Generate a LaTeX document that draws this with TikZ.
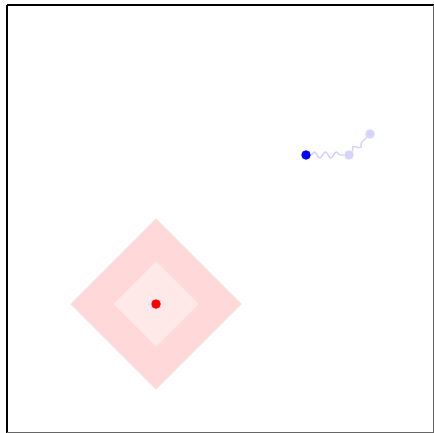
\documentclass[tikz,border=0pt]{standalone}
\usepackage{tikz}
\usetikzlibrary{positioning,decorations.pathmorphing}

\begin{document}
\begin{tikzpicture}[x=1pt, y=-1pt,
  dot/.style={circle, inner sep=0pt, minimum size=9.5pt},
  wiggle/.style={decorate, decoration={snake, amplitude=3pt, segment length=11pt, post length=2pt}, line width=1.4pt, blue!18}]
  \useasboundingbox (0,0) rectangle (434,433);
  % Frame
  \draw[line width=2pt] (6.5,5.5) -- (434,5.5);
  \draw[line width=2pt] (6.5,5.5) -- (6.5,433);
  \draw[black!60, line width=1pt] (433.5,5.5) -- (433.5,432.5) -- (6.5,432.5);
  % Goal region
  \fill[red!15] (156,304) +(-85.5,0) -- +(0,-85.5) -- +(85.5,0) -- +(0,85.5) -- cycle;
  \fill[red!9] (156,304) +(-42.5,0) -- +(0,-42.5) -- +(42.5,0) -- +(0,42.5) -- cycle;
  \node[dot, fill=red] (goal) at (156,304) {};
  % Agent and its trail
  \node[dot, fill=blue] (agent) at (306,155) {};
  \node[dot, fill=blue!17] (trailA) at (349,155) {};
  \node[dot, fill=blue!17] (trailB) at (370,134) {};
  \draw[wiggle] (agent) -- (trailA);
  \draw[wiggle] (trailA) -- (trailB);
\end{tikzpicture}
\end{document}
